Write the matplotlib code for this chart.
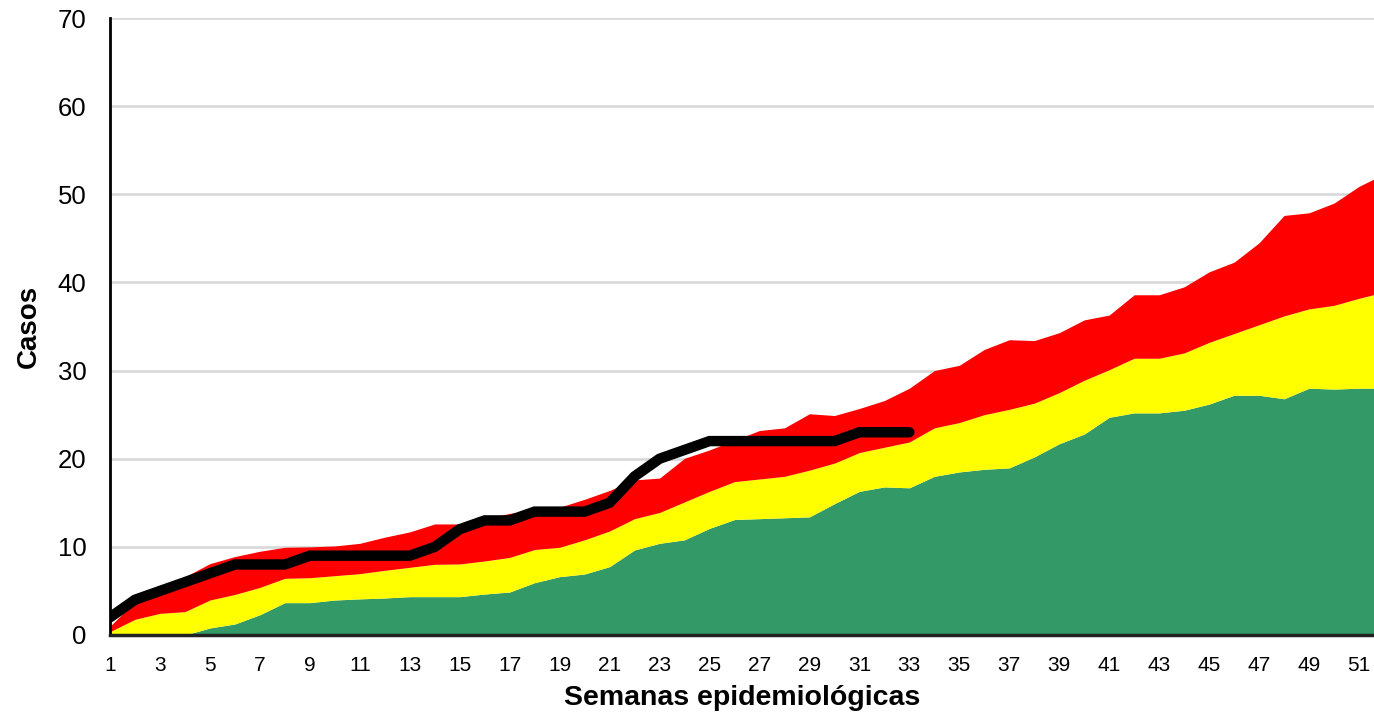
import numpy as np
import matplotlib.pyplot as plt

# semanas epidemiológicas 1..52
semanas = np.arange(1, 53)

# límites acumulados de las zonas del canal endémico
exito = [0, 0, 0, 0, 0.8, 1.25, 2.3, 3.67, 3.67, 3.97, 4.1, 4.2, 4.35, 4.35, 4.35,
         4.65, 4.88, 5.94, 6.62, 6.92, 7.76, 9.65, 10.4, 10.8, 12.1, 13.1, 13.2,
         13.3, 13.4, 14.9, 16.3, 16.8, 16.7, 18.0, 18.5, 18.8, 18.96, 20.2, 21.7,
         22.8, 24.7, 25.2, 25.2, 25.5, 26.2, 27.2, 27.2, 26.8, 28.0, 27.9, 28.0, 28.0]
seguridad = [0.38, 1.78, 2.46, 2.65, 3.97, 4.6, 5.4, 6.43, 6.5, 6.73, 6.96, 7.34,
             7.68, 8.02, 8.06, 8.4, 8.8, 9.7, 9.95, 10.8, 11.8, 13.2, 13.9, 15.1,
             16.3, 17.4, 17.7, 18.0, 18.7, 19.5, 20.7, 21.3, 21.9, 23.5, 24.1, 25.0,
             25.6, 26.3, 27.5, 28.9, 30.1, 31.4, 31.4, 32.0, 33.2, 34.2, 35.2, 36.2,
             37.0, 37.4, 38.2, 38.9]
alarma = [1.0, 3.8, 5.6, 6.6, 8.1, 8.9, 9.5, 9.95, 10.0, 10.1, 10.4, 11.1, 11.7,
          12.6, 12.6, 13.2, 13.8, 14.2, 14.5, 15.4, 16.4, 17.6, 17.8, 20.05, 21.0,
          22.1, 23.2, 23.5, 25.1, 24.9, 25.7, 26.6, 28.0, 30.0, 30.6, 32.4, 33.5,
          33.4, 34.3, 35.75, 36.3, 38.6, 38.6, 39.5, 41.2, 42.3, 44.5, 47.6, 47.9,
          49.0, 50.9, 52.3]

# casos acumulados del año actual (semanas 1..33)
casos = [2, 4, 5, 6, 7, 8, 8, 8, 9, 9, 9, 9, 9, 10, 12, 13, 13, 14, 14, 14, 15,
         18, 20, 21, 22, 22, 22, 22, 22, 22, 23, 23, 23]

plt.rcParams['font.family'] = ['Liberation Sans', 'DejaVu Sans']

W, H = 1374, 720
fig = plt.figure(figsize=(W / 100, H / 100), dpi=100)
ax = fig.add_axes([110 / W, 85 / H, 1 - 110 / W, 617 / H])

ax.fill_between(semanas, 0, exito, color='#339966', lw=0, zorder=2)
ax.fill_between(semanas, exito, seguridad, color='#ffff00', lw=0, zorder=2)
ax.fill_between(semanas, seguridad, alarma, color='#ff0000', lw=0, zorder=2)
ax.plot(np.arange(1, len(casos) + 1), casos, color='black', lw=7.5,
        solid_capstyle='round', solid_joinstyle='miter', zorder=3)

ax.set_xlim(1, 51.6)
ax.set_ylim(0, 70)
ax.set_yticks(range(0, 71, 10))
ax.set_xticks(range(1, 52, 2))
ax.grid(axis='y', color='#d9d9d9', lw=2, zorder=1)
ax.set_axisbelow(True)

for s in ['top', 'right']:
    ax.spines[s].set_visible(False)
ax.spines['left'].set_linewidth(2)
ax.spines['bottom'].set_linewidth(2.5)
ax.spines['bottom'].set_color('#222222')
ax.tick_params(length=0)
ax.tick_params(axis='y', labelsize=18.5, pad=17)
ax.tick_params(axis='x', labelsize=15, pad=15)

ax.set_ylabel('Casos', fontsize=20, fontweight='bold', labelpad=11)
ax.set_xlabel('Semanas epidemiológicas', fontsize=20.5, fontweight='bold', labelpad=7)

fig.savefig('out.png', dpi=100)
